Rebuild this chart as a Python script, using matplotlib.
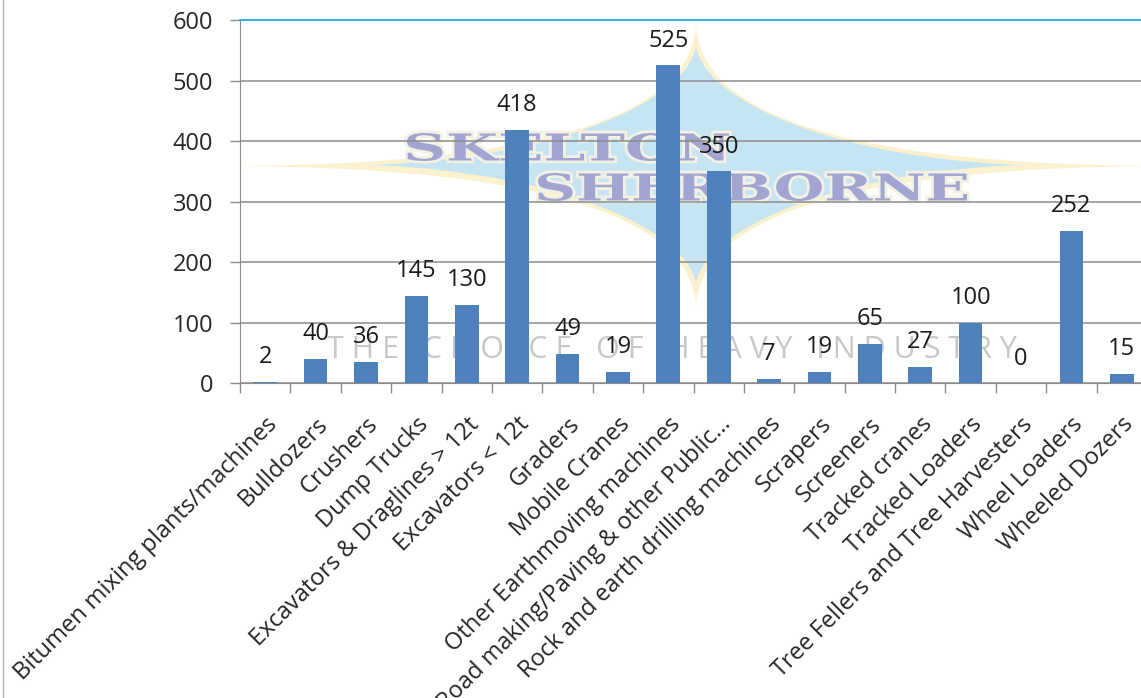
import numpy as np
import matplotlib
matplotlib.use("Agg")
import matplotlib.pyplot as plt
from matplotlib.patches import Polygon, PathPatch
from matplotlib.lines import Line2D
from matplotlib.path import Path
from matplotlib.textpath import TextPath
from matplotlib.font_manager import FontProperties
import matplotlib.patheffects as pe

categories = [
    "Bitumen mixing plants/machines", "Bulldozers", "Crushers", "Dump Trucks",
    "Excavators & Draglines > 12t", "Excavators < 12t", "Graders", "Mobile Cranes",
    "Other Earthmoving machines", "Road making/Paving & other Public\u2026",
    "Rock and earth drilling machines", "Scrapers", "Screeners", "Tracked cranes",
    "Tracked Loaders", "Tree Fellers and Tree Harvesters", "Wheel Loaders",
    "Wheeled Dozers",
]
values = [2, 40, 36, 145, 130, 418, 49, 19, 525, 350, 7, 19, 65, 27, 100, 0, 252, 15]
yticks = [0, 100, 200, 300, 400, 500, 600]

plt.rcParams['font.family'] = ['Open Sans', 'DejaVu Sans']

W, H = 1141, 698
fig = plt.figure(figsize=(W / 100, H / 100), dpi=100)
ax = fig.add_axes([240 / W, 1 - 383.3 / H, 907 / W, 363.3 / H])

x = np.arange(len(categories))
ax.bar(x, values, width=0.47, color='#4f81bd', zorder=2)

for xi, v in zip(x, values):
    ax.annotate(str(v), (xi, v), xytext=(0, 13.5), textcoords='offset points',
                ha='center', va='baseline', fontsize=17, color='#1a1a1a', zorder=4)

ax.set_xlim(-0.5, len(categories) - 0.5)
ax.set_ylim(0, 600)
ax.set_yticks(yticks)
ax.set_yticklabels([str(t) for t in yticks])
ax.yaxis.grid(True, color='#8c8c8c', linewidth=1.1)
ax.set_axisbelow(True)

ax.set_xticks(x)
ax.set_xticklabels(categories, rotation=45, ha='right', va='top',
                   rotation_mode='anchor')
ax.set_xticks(np.arange(len(categories) + 1) - 0.5, minor=True)
ax.tick_params(axis='x', which='major', length=0, pad=21, labelsize=17,
               labelcolor='#262626')
ax.tick_params(axis='x', which='minor', length=7.2, color='#8c8c8c', width=1)
ax.tick_params(axis='y', length=7.2, color='#8c8c8c', width=1, pad=12,
               labelsize=17, labelcolor='#262626')

ax.spines['right'].set_visible(False)
ax.spines['top'].set_color('#1eb4f0')
ax.spines['top'].set_linewidth(1.3)
ax.spines['left'].set_color('#8c8c8c')
ax.spines['bottom'].set_color('#8c8c8c')

# faint company watermark behind the bars
def px(xp, yp):
    return (np.asarray(xp) / W, 1 - np.asarray(yp) / H)

t = np.linspace(0, 2 * np.pi, 800)
def star(cx, cy, a, b, p):
    c, s = np.cos(t), np.sin(t)
    xs = cx + a * np.sign(c) * np.abs(c) ** (2 / p)
    ys = cy + b * np.sign(s) * np.abs(s) ** (2 / p)
    return np.column_stack(px(xs, ys))

ax.add_patch(Polygon(star(696, 166, 480, 145, 0.5), closed=True,
                     transform=fig.transFigure, facecolor='#fcf1cd',
                     edgecolor='none', zorder=0.1))
ax.add_patch(Polygon(star(696, 165, 335, 120, 0.6), closed=True,
                     transform=fig.transFigure, facecolor='#c6e5f3',
                     edgecolor='none', zorder=0.2))

logo_font = FontProperties(family='DejaVu Serif', weight='bold')
glow = [pe.withStroke(linewidth=4, foreground='#f3f0e4')]

def logo_word(word, x0, x1, yc, cap):
    tp = TextPath((0, 0), word, size=1, prop=logo_font)
    ext = tp.get_extents()
    v = tp.vertices
    xs = x0 + (v[:, 0] - ext.x0) / ext.width * (x1 - x0)
    ys = yc - (v[:, 1] - (ext.y0 + ext.y1) / 2) / ext.height * cap
    fx, fy = px(xs, ys)
    patch = PathPatch(Path(np.column_stack([fx, fy]), tp.codes),
                      transform=fig.transFigure, facecolor='#a2a5d1',
                      edgecolor='none', zorder=0.3)
    patch.set_path_effects(glow)
    ax.add_patch(patch)

logo_word("SKELTON", 407, 729, 147, 28)
logo_word("SHERBORNE", 538, 967, 187, 28)

ax.text(*px(672, 350), "T H E   C H O I C E   O F   H E A V Y   I N D U S T R Y",
        transform=fig.transFigure, ha='center', va='center', fontsize=22,
        color='#c8c8c8', zorder=0.3)

fig.add_artist(Line2D([2.5 / W, 2.5 / W], [0, 1], color='#b4b4b4', linewidth=1))

fig.savefig('out.png', dpi=100)
